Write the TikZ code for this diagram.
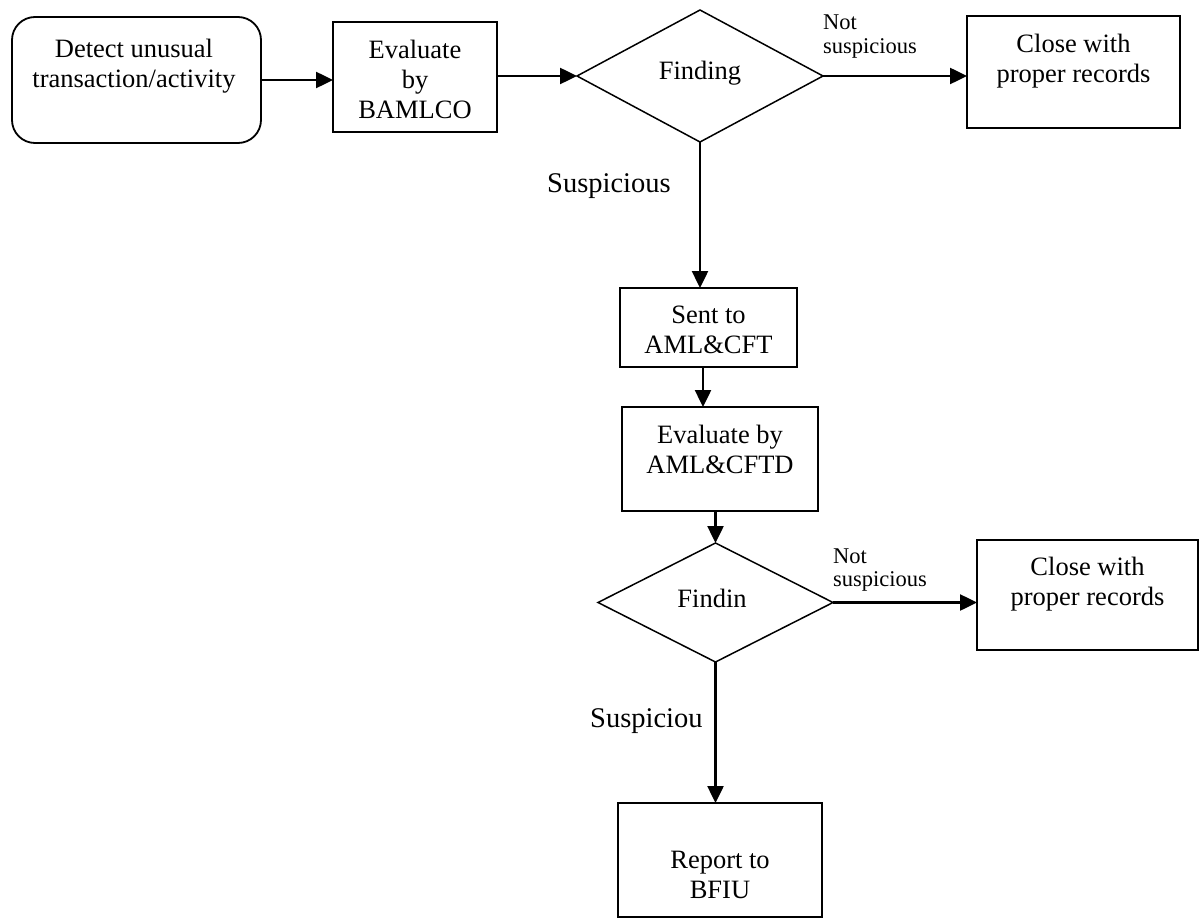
\documentclass[tikz,border=0pt]{standalone}
\usepackage{fontspec}
\setmainfont{Liberation Serif}
\usetikzlibrary{shapes.geometric,arrows.meta}
\begin{document}
\begin{tikzpicture}[x=1pt,y=-1pt,
  sbox/.style={draw,line width=1.8pt,inner sep=0pt,outer sep=0pt},
  rbox/.style={sbox,rounded corners=23pt},
  decision/.style={draw,diamond,line width=1.5pt,inner sep=0pt,outer sep=0pt},
  txt/.style={inner sep=0pt,align=center,font=\fontsize{26.5}{30}\selectfont},
  yesno/.style={inner sep=0pt,align=left,font=\fontsize{22.5}{23.5}\selectfont},
  branch/.style={inner sep=0pt,font=\fontsize{28.5}{30}\selectfont},
  arr/.style={line width=2.5pt,-{Triangle[length=17pt,width=16pt]}}]
  \fill[white] (0,0) rectangle (1199,920);
  \useasboundingbox (0,0) rectangle (1199,920);

  % top row
  \node[rbox,minimum width=249pt,minimum height=126pt] (detect) at (136.5,80) {};
  \node[txt] (detectT) at (134,66.6) {Detect unusual\\transaction/activity};
  \node[sbox,minimum width=164pt,minimum height=110pt] (bamlco) at (415,77) {};
  \node[txt] (bamlcoT) at (415,79) {Evaluate\\by\\BAMLCO};
  \node[decision,minimum width=246pt,minimum height=132pt] (find1) at (700,76) {};
  \node[txt,anchor=base] (find1T) at (700,80) {Finding};
  \node[sbox,minimum width=213pt,minimum height=112pt] (close1) at (1073.5,72) {};
  \node[txt] (close1T) at (1073.5,61) {Close with\\proper records};

  % central column
  \node[sbox,minimum width=177pt,minimum height=79pt] (sent) at (708.5,327.5) {};
  \node[txt] (sentT) at (708.5,329.5) {Sent to\\AML\&CFT};
  \node[sbox,minimum width=196pt,minimum height=104pt] (eval2) at (720,459) {};
  \node[txt] (eval2T) at (720,449) {Evaluate by\\AML\&CFTD};
  \node[decision,minimum width=235pt,minimum height=119pt] (find2) at (715.5,602.5) {};
  \node[txt,anchor=base] (find2T) at (712,607) {Findin};
  \node[sbox,minimum width=221pt,minimum height=110pt] (close2) at (1087.5,595) {};
  \node[txt] (close2T) at (1087.5,584) {Close with\\proper records};
  \node[sbox,minimum width=204pt,minimum height=114pt] (report) at (720,860) {};
  \node[txt] (reportT) at (720,875.4) {Report to\\BFIU};

  % branch labels
  \node[yesno,anchor=west] (ns1) at (823,36.6) {Not\\suspicious};
  \node[branch,anchor=base west] (s1) at (547,193) {Suspicious};
  \node[yesno,anchor=west] (ns2) at (833,570) {Not\\suspicious};
  \node[branch,anchor=base west] (s2) at (590,727) {Suspiciou};

  % connectors
  \draw[arr] (detect.east) -- (detect.east -| bamlco.west);
  \draw[arr] (bamlco.east |- find1.west) -- (find1.west);
  \draw[arr] (find1.east) -- (find1.east -| close1.west);
  \draw[arr] (find1.south) -- (find1.south |- sent.north);
  \draw[arr] ([xshift=-5.5pt]sent.south) -- ([xshift=-5.5pt]sent.south |- eval2.north);
  \draw[arr] (find2.north |- eval2.south) -- (find2.north);
  \draw[arr] (find2.east) -- (find2.east -| close2.west);
  \draw[arr] (find2.south) -- (find2.south |- report.north);
\end{tikzpicture}
\end{document}
